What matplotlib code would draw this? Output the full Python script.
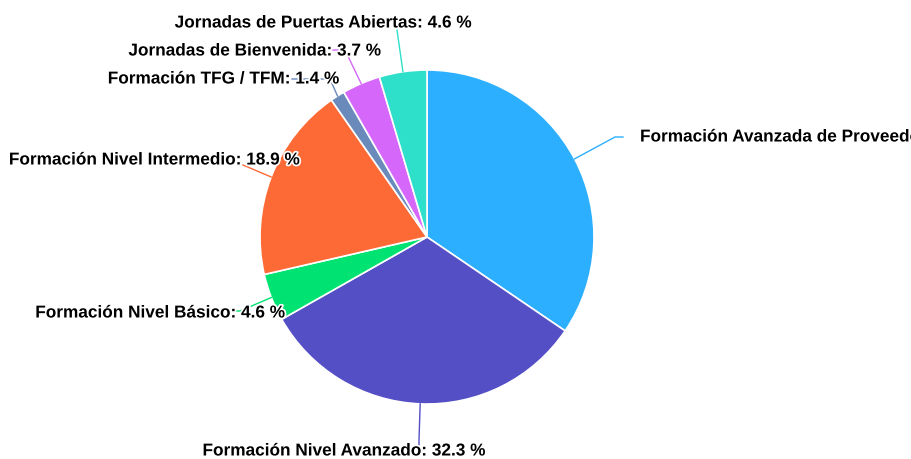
import numpy as np
import matplotlib.pyplot as plt
import matplotlib.patheffects as pe

categories = [
    "Formación Avanzada de Proveedores",
    "Formación Nivel Avanzado",
    "Formación Nivel Básico",
    "Formación Nivel Intermedio",
    "Formación TFG / TFM",
    "Jornadas de Bienvenida",
    "Jornadas de Puertas Abiertas",
]
shares = [34.5, 32.3, 4.6, 18.9, 1.4, 3.7, 4.6]
colors = ["#2caffe", "#544fc5", "#00e272", "#fe6a35", "#6b8abc", "#d568fb", "#2ee0ca"]

# label layout in pixels: connector elbow, connector end, text anchor, alignment
W, H = 912, 459
cx, cy, R = 427, 237, 167
elbows = [(615, 137), (419, 440), (240, 311), (243, 165), (330, 79), (345, 50), (397, 30)]
ends = [(623, 137), (419, 453), (236, 311), (243, 165), (292, 79), (333, 50), (397, 30)]
anchors = [(640, 137), (344, 451), (285, 313), (300, 160), (339, 79), (381, 51), (472, 23)]
aligns = ["left", "center", "right", "right", "right", "right", "right"]

fig = plt.figure(figsize=(W / 100, H / 100), dpi=100)
ax = fig.add_axes([(cx - R) / W, (H - cy - R) / H, 2 * R / W, 2 * R / H])

wedges, _ = ax.pie(shares, colors=colors, startangle=90, counterclock=False, radius=1,
                   wedgeprops=dict(edgecolor="white", linewidth=1.2))
ax.set_xlim(-1, 1)
ax.set_ylim(-1, 1)
ax.axis("off")


def to_data(p):
    return ((p[0] - cx) / R, (cy - p[1]) / R)


for w, name, val, col, el, en, an, ha in zip(wedges, categories, shares, colors,
                                             elbows, ends, anchors, aligns):
    mid = np.deg2rad((w.theta1 + w.theta2) / 2)
    start = (np.cos(mid), np.sin(mid))
    e1 = to_data(el)
    e2 = to_data(en)
    ax.plot([start[0], e1[0], e2[0]], [start[1], e1[1], e2[1]], color=col, lw=1,
            clip_on=False, zorder=3)
    tx, ty = to_data(an)
    t = ax.text(tx, ty, f"{name}: {val} %", ha=ha, va="center", fontsize=12.4,
                fontweight="bold", family="Liberation Sans", color="#000000",
                clip_on=False, zorder=4)
    t.set_path_effects([pe.withStroke(linewidth=2.5, foreground="white")])

fig.savefig("out.png", dpi=100, facecolor="white")
